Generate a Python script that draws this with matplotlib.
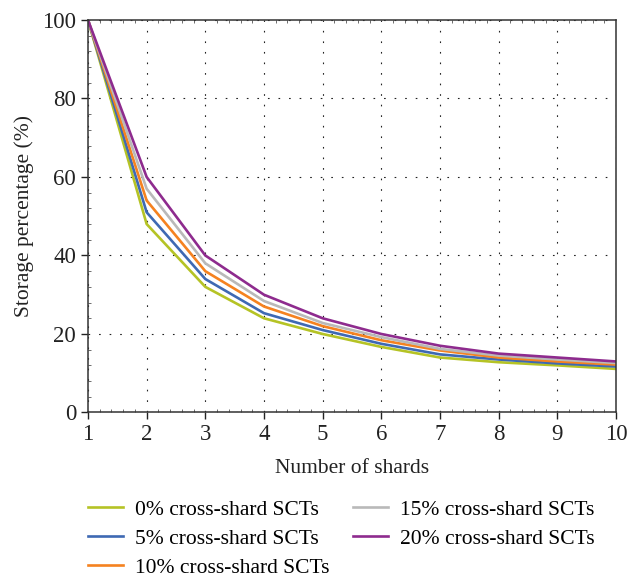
import matplotlib
matplotlib.use("Agg")
import matplotlib.pyplot as plt
from matplotlib.ticker import MultipleLocator

# data
shards = [1, 2, 3, 4, 5, 6, 7, 8, 9, 10]
pct_0 = [100, 48, 32, 24, 20, 16.7, 14, 12.8, 12, 11.1]
pct_5 = [100, 51, 34, 25.3, 21, 17.5, 14.8, 13.5, 12.5, 11.7]
pct_10 = [100, 54, 36, 27, 22, 18.4, 15.8, 14, 13, 12.2]
pct_15 = [100, 57, 38, 28.4, 22.8, 19.2, 16.2, 14.5, 13.5, 12.6]
pct_20 = [100, 60, 40, 30, 24, 20, 17, 15, 14, 13]
labels = ["0% cross-shard SCTs", "5% cross-shard SCTs", "10% cross-shard SCTs",
          "15% cross-shard SCTs", "20% cross-shard SCTs"]
colors = ["#b5c325", "#3e69b3", "#f58220", "#b9b9b9", "#8e2b8e"]

plt.rcParams['font.family'] = ['Liberation Serif', 'DejaVu Serif']
fs = 15.5

fig = plt.figure(figsize=(6.28, 5.79), dpi=100)
ax = fig.add_axes([0.1401, 0.2876, 0.8408, 0.6779])

for ys, lab, c in zip([pct_0, pct_5, pct_10, pct_15, pct_20], labels, colors):
    ax.plot(shards, ys, color=c, lw=1.9, label=lab)

ax.set_xlim(1, 10)
ax.set_ylim(0, 100)
ax.set_xticks(shards)
ax.set_yticks([0, 20, 40, 60, 80, 100])
ax.yaxis.set_minor_locator(MultipleLocator(4))
ax.xaxis.set_minor_locator(MultipleLocator(0.2))

ax.grid(True, which='major', color='#222222', lw=0.8, linestyle=(0, (1.5, 8)))
for s in ax.spines.values():
    s.set_color('#333333')
    s.set_linewidth(1.1)

ax.tick_params(which='major', direction='out', length=5, width=1, labelsize=16.5, colors='#222222')
ax.tick_params(which='minor', direction='in', length=2, width=0.6, top=True, colors='#555555')

ax.set_xlabel("Number of shards", fontsize=fs, labelpad=10, color='#222222')
ax.set_ylabel("Storage percentage (%)", fontsize=fs, labelpad=6, color='#222222')

fig.legend(loc='upper left', bbox_to_anchor=(88 / 628, 0.137), ncol=2,
           frameon=False, fontsize=fs, borderaxespad=0, borderpad=0,
           handlelength=1.63, handletextpad=0.56, columnspacing=1.1,
           labelspacing=0.41)

fig.savefig("out.png", dpi=100)
